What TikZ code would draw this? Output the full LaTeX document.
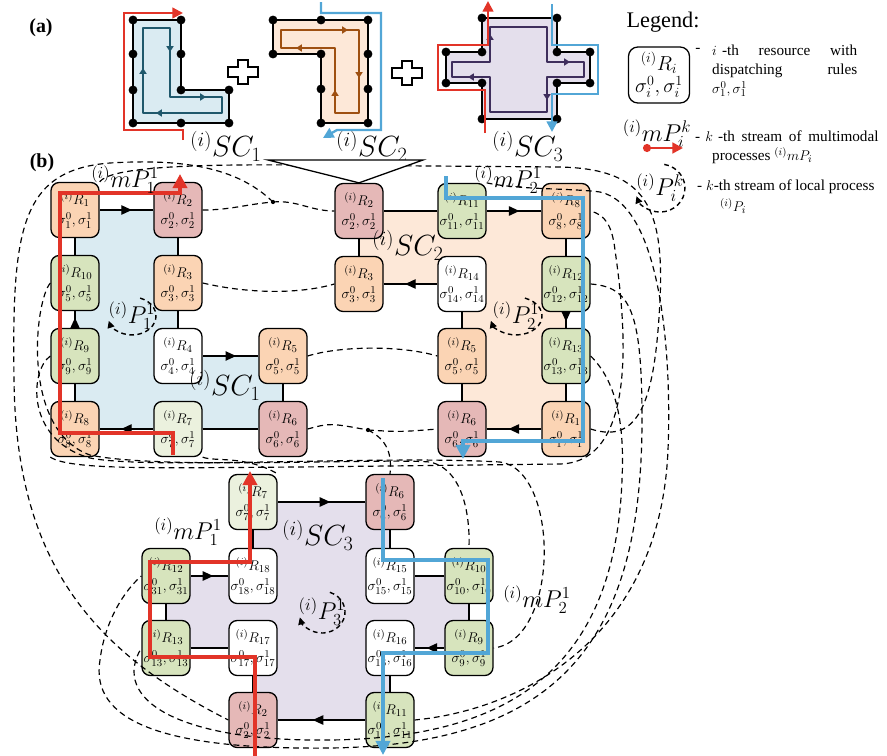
\documentclass[tikz,border=0pt]{standalone}
\usepackage{fontspec}
\setmainfont{Liberation Serif}
\usetikzlibrary{arrows.meta,decorations.markings}

\definecolor{peachbox}{RGB}{251,212,180}
\definecolor{pinkbox}{RGB}{229,184,183}
\definecolor{greenbox}{RGB}{215,228,189}
\definecolor{palegreen}{RGB}{235,241,222}
\definecolor{bgone}{RGB}{218,235,242}
\definecolor{bgtwo}{RGB}{253,232,216}
\definecolor{bgthree}{RGB}{228,223,236}
\definecolor{mpred}{RGB}{226,52,40}
\definecolor{mpblue}{RGB}{82,166,214}
\definecolor{loopteal}{RGB}{31,88,108}
\definecolor{loopbrown}{RGB}{158,80,18}
\definecolor{loopviolet}{RGB}{62,46,92}

\newcommand{\restext}[2]{$^{(i)}R_{#1}$\\$\sigma^0_{#2},\sigma^1_{#2}$}

\tikzset{
  res/.style={draw, line width=1.1pt, rounded corners=7pt, minimum width=1.44cm,
    minimum height=1.65cm, inner sep=0pt, align=center,
    font=\fontsize{12.5}{17}\selectfont},
  link/.style={line width=1.1pt},
  midarrow/.style={postaction={decorate}, decoration={markings,
    mark=at position .6 with {\arrow{Triangle[length=9pt,width=8pt]}}}},
  shared/.style={line width=1pt, dash pattern=on 5pt off 3.5pt},
  route/.style={line width=3pt, -{Triangle[length=12pt,width=12pt]}},
  smallroute/.style={line width=2pt, -{Triangle[length=9pt,width=9pt]}},
  loopline/.style={line width=2.4pt, line join=round},
  smalltip/.style={line width=2.4pt, -{Triangle[length=5pt,width=6pt]}},
  outline/.style={draw, line width=1.2pt},
  locloop/.style={line width=1.2pt, dash pattern=on 4pt off 3pt,
    -{Triangle[length=6pt,width=6pt]}},
  bigmath/.style={font=\fontsize{25}{30}\selectfont, inner sep=0pt},
  midmath/.style={font=\fontsize{20.7}{24}\selectfont, inner sep=0pt},
  keyline/.style={font=\fontsize{13}{16}\selectfont, inner sep=0pt}
}

\begin{document}
\begin{tikzpicture}[x=0.03cm, y=-0.03cm]
  \useasboundingbox (0,0) rectangle (887,756);

  % (a) the three sub-cycles
  \node[font=\fontsize{17}{20}\selectfont\bfseries] (taga) at (41,28) {(a)};
  \draw[outline, fill=bgone] (133,20) -- (181,20) -- (181,90) -- (229,90) -- (229,123) -- (133,123) -- cycle;
  \draw[outline, fill=bgtwo] (273,20) -- (368,20) -- (368,123) -- (321,123) -- (321,54) -- (273,54) -- cycle;
  \draw[outline, fill=bgthree] (482,18) -- (557,18) -- (557,52) -- (590,52) -- (590,83) -- (557,83)
    -- (557,119) -- (482,119) -- (482,83) -- (446,83) -- (446,52) -- (482,52) -- cycle;
  \draw[loopline, loopteal] (143,28) -- (170,28) -- (170,97) -- (222,97) -- (222,113) -- (143,113) -- cycle;
  \draw[smalltip, loopteal] (170,42) -- (170,52);
  \draw[smalltip, loopteal] (143,78) -- (143,68);
  \draw[smalltip, loopteal] (196,97) -- (206,97);
  \draw[smalltip, loopteal] (166,113) -- (156,113);
  \draw[loopline, loopbrown] (281,30) -- (359,30) -- (359,113) -- (335,113) -- (335,48) -- (281,48) -- cycle;
  \draw[smalltip, loopbrown] (338,30) -- (348,30);
  \draw[smalltip, loopbrown] (359,68) -- (359,78);
  \draw[smalltip, loopbrown] (335,100) -- (335,90);
  \draw[smalltip, loopbrown] (306,48) -- (296,48);
  \draw[loopline, loopviolet] (490,27) -- (547,27) -- (547,62) -- (584,62) -- (584,77) -- (547,77)
    -- (547,112) -- (490,112) -- (490,77) -- (452,77) -- (452,62) -- (490,62) -- cycle;
  \draw[smalltip, loopviolet] (490,44) -- (490,34);
  \draw[smalltip, loopviolet] (560,62) -- (570,62);
  \draw[smalltip, loopviolet] (547,90) -- (547,100);
  \draw[smalltip, loopviolet] (478,77) -- (468,77);
  \fill (133,20) circle (3.8pt) (181,20) circle (3.8pt) (133,54) circle (3.8pt) (181,54) circle (3.8pt)
    (133,90) circle (3.8pt) (181,90) circle (3.8pt) (229,90) circle (3.8pt)
    (133,123) circle (3.8pt) (181,123) circle (3.8pt) (229,123) circle (3.8pt);
  \fill (273,20) circle (3.8pt) (321,20) circle (3.8pt) (368,20) circle (3.8pt)
    (273,54) circle (3.8pt) (321,54) circle (3.8pt) (368,54) circle (3.8pt)
    (321,89) circle (3.8pt) (368,89) circle (3.8pt) (321,123) circle (3.8pt) (368,123) circle (3.8pt);
  \fill (482,18) circle (3.8pt) (557,18) circle (3.8pt) (446,52) circle (3.8pt) (482,52) circle (3.8pt)
    (557,52) circle (3.8pt) (590,52) circle (3.8pt) (446,83) circle (3.8pt) (482,83) circle (3.8pt)
    (557,83) circle (3.8pt) (590,83) circle (3.8pt) (482,119) circle (3.8pt) (557,119) circle (3.8pt);
  \draw[smallroute, mpred] (183,140) -- (183,130) -- (124,130) -- (124,13) -- (183,13);
  \draw[smallroute, mpblue] (321,2) -- (321,13) -- (381,13) -- (381,130) -- (337,130) -- (323,138);
  \draw[smallroute, mpred] (485,133) -- (485,90) -- (438,90) -- (438,45) -- (488,45) -- (488,1);
  \draw[smallroute, mpblue] (552,4) -- (552,45) -- (598,45) -- (598,94) -- (552,94) -- (552,132);
  \draw[outline, fill=white] (243,72) ++(-5,-12) -- ++(10,0) -- ++(0,7) -- ++(10,0) -- ++(0,10) -- ++(-10,0)
    -- ++(0,7) -- ++(-10,0) -- ++(0,-7) -- ++(-10,0) -- ++(0,-10) -- ++(10,0) -- cycle;
  \draw[outline, fill=white] (407,73) ++(-5,-12) -- ++(10,0) -- ++(0,7) -- ++(10,0) -- ++(0,10) -- ++(-10,0)
    -- ++(0,7) -- ++(-10,0) -- ++(0,-7) -- ++(-10,0) -- ++(0,-10) -- ++(10,0) -- cycle;
  \node[bigmath] (scA) at (226,146) {$^{(i)}SC_1$};
  \node[bigmath] (scB) at (372,146) {$^{(i)}SC_2$};
  \node[bigmath] (scC) at (528,146) {$^{(i)}SC_3$};

  % (b) backgrounds
  \node[font=\fontsize{17}{20}\selectfont\bfseries] (tagb) at (42,163) {(b)};
  \fill[bgone] (75,210) -- (178,210) -- (178,356) -- (283,356) -- (283,429) -- (75,429) -- cycle;
  \fill[bgtwo] (359,211) -- (566,211) -- (566,429) -- (462,429) -- (462,284) -- (359,284) -- cycle;
  \fill[bgthree] (253,502) -- (390,502) -- (390,576) -- (469,576) -- (469,648) -- (390,648) -- (390,720)
    -- (253,720) -- (253,648) -- (166,648) -- (166,576) -- (253,576) -- cycle;

  % SC1 resources
  \node[res, fill=peachbox] (A1) at (75,210) {\restext{1}{1}};
  \node[res, fill=pinkbox] (A2) at (178,210) {\restext{2}{2}};
  \node[res, fill=greenbox] (A10) at (75,283) {\restext{10}{5}};
  \node[res, fill=peachbox] (A3) at (178,283) {\restext{3}{3}};
  \node[res, fill=greenbox] (A9) at (75,356) {\restext{9}{9}};
  \node[res, fill=white] (A4) at (178,356) {\restext{4}{4}};
  \node[res, fill=peachbox] (A5) at (283,356) {\restext{5}{5}};
  \node[res, fill=peachbox] (A8) at (75,429) {\restext{8}{8}};
  \node[res, fill=palegreen] (A7) at (178,429) {\restext{7}{7}};
  \node[res, fill=pinkbox] (A6) at (283,429) {\restext{6}{6}};

  % SC2 resources
  \node[res, fill=pinkbox] (B2) at (359,211) {\restext{2}{2}};
  \node[res, fill=greenbox] (B11) at (462,211) {\restext{11}{11}};
  \node[res, fill=peachbox] (B8) at (566,211) {\restext{8}{8}};
  \node[res, fill=peachbox] (B3) at (359,284) {\restext{3}{3}};
  \node[res, fill=white] (B14) at (462,284) {\restext{14}{14}};
  \node[res, fill=greenbox] (B12) at (566,284) {\restext{12}{12}};
  \node[res, fill=peachbox] (B5) at (462,356) {\restext{5}{5}};
  \node[res, fill=greenbox] (B13) at (566,356) {\restext{13}{13}};
  \node[res, fill=pinkbox] (B6) at (462,429) {\restext{6}{6}};
  \node[res, fill=peachbox] (B1) at (566,429) {\restext{1}{1}};

  % SC3 resources
  \node[res, fill=palegreen] (C7) at (253,502) {\restext{7}{7}};
  \node[res, fill=pinkbox] (C6) at (390,502) {\restext{6}{6}};
  \node[res, fill=greenbox] (C12) at (166,576) {\restext{12}{31}};
  \node[res, fill=white] (C18) at (253,576) {\restext{18}{18}};
  \node[res, fill=white] (C15) at (390,576) {\restext{15}{15}};
  \node[res, fill=greenbox] (C10) at (469,576) {\restext{10}{10}};
  \node[res, fill=greenbox] (C13) at (166,648) {\restext{13}{13}};
  \node[res, fill=white] (C17) at (253,648) {\restext{17}{17}};
  \node[res, fill=white] (C16) at (390,648) {\restext{16}{16}};
  \node[res, fill=greenbox] (C9) at (469,648) {\restext{9}{9}};
  \node[res, fill=pinkbox] (C2) at (253,720) {\restext{2}{2}};
  \node[res, fill=greenbox] (C11) at (390,720) {\restext{11}{11}};

  % transport links
  \draw[link, midarrow] (A1) -- (A2);
  \draw[link] (A1) -- (A10);
  \draw[link, midarrow] (A9) -- (A10);
  \draw[link] (A9) -- (A8);
  \draw[link, midarrow] (A7) -- (A8);
  \draw[link] (A7) -- (A6);
  \draw[link] (A6) -- (A5);
  \draw[link, midarrow] (A4) -- (A5);
  \draw[link] (A4) -- (A3);
  \draw[link] (A3) -- (A2);
  \draw[link] (B2) -- (B11);
  \draw[link, midarrow] (B11) -- (B8);
  \draw[link] (B8) -- (B12);
  \draw[link, midarrow] (B12) -- (B13);
  \draw[link] (B13) -- (B1);
  \draw[link, midarrow] (B1) -- (B6);
  \draw[link] (B6) -- (B5);
  \draw[link] (B5) -- (B14);
  \draw[link, midarrow] (B14) -- (B3);
  \draw[link] (B3) -- (B2);
  \draw[link, midarrow] (C7) -- (C6);
  \draw[link] (C6) -- (C15);
  \draw[link] (C15) -- (C10);
  \draw[link] (C10) -- (C9);
  \draw[link, midarrow] (C9) -- (C16);
  \draw[link] (C16) -- (C11);
  \draw[link, midarrow] (C11) -- (C2);
  \draw[link] (C2) -- (C17);
  \draw[link] (C17) -- (C13);
  \draw[link] (C13) -- (C12);
  \draw[link, midarrow] (C12) -- (C18);
  \draw[link] (C18) -- (C7);

  % shared resources
  \coordinate (J2) at (273,202);
  \coordinate (J6) at (368,430);
  \fill (J2) circle (1.8pt);
  \fill (J6) circle (1.8pt);
  \draw[shared] (A2.east) to[out=0,in=185] (J2);
  \draw[shared] (J2) to[out=5,in=180] (B2.west);
  \draw[shared] (J2) .. controls (240,170) and (190,158) .. (110,163) .. controls (20,170) and (12,230) .. (14,380)
    .. controls (16,560) and (90,650) .. (C2.west);
  \draw[shared] (A1.north east) .. controls (110,168) and (180,164) .. (300,165) -- (560,167)
    .. controls (640,169) and (665,200) .. (660,300) .. controls (655,400) and (640,445) .. (B1.east);
  \draw[shared] (A3.east) .. controls (250,294) and (300,294) .. (B3.west);
  \draw[shared] (A5.east) .. controls (340,346) and (400,345) .. (B5.west);
  \draw[shared] (A6.east) .. controls (330,423) .. (J6);
  \draw[shared] (J6) .. controls (400,432) .. (B6.west);
  \draw[shared] (J6) .. controls (388,440) and (392,455) .. (C6.north);
  \draw[shared] (A7.south east) .. controls (215,462) and (245,455) .. (C7.north east);
  \draw[shared] (A8.south west) .. controls (70,470) and (150,468) .. (300,467) -- (560,464)
    .. controls (640,462) and (625,320) .. (615,250) .. controls (612,225) and (605,215) .. (B8.east);
  \draw[shared] (A9.west) .. controls (30,370) and (25,440) .. (90,458) .. controls (150,470) and (380,455) .. (500,462)
    .. controls (560,470) and (560,640) .. (C9.east);
  \draw[shared] (A10.west) .. controls (35,300) and (20,430) .. (90,455) .. controls (160,470) and (380,458) .. (430,462)
    .. controls (465,470) and (470,520) .. (C10.north);
  \draw[shared] (B11.north east) .. controls (520,190) and (570,188) .. (600,192) .. controls (660,205) and (672,350) .. (668,450)
    .. controls (660,640) and (520,710) .. (C11.east);
  \draw[shared] (B12.east) .. controls (630,287) and (642,310) .. (642,420) .. controls (642,640) and (560,745) .. (330,748)
    .. controls (160,750) and (90,720) .. (100,660) .. controls (105,620) and (125,590) .. (C12.west);
  \draw[shared] (B13.east) .. controls (615,380) and (625,420) .. (622,480) .. controls (615,660) and (520,738) .. (330,740)
    .. controls (180,742) and (110,700) .. (C13.west);
  \draw[link, fill=white] (268,160) -- (423,160) -- (B2.north) -- cycle;

  % multimodal streams
  \draw[route, mpred] (173,455) -- (173,433) -- (60,433) -- (60,193) -- (180,193) -- (180,174);
  \draw[route, mpblue] (446,176) -- (446,198) -- (583,198) -- (583,441) -- (463,441) -- (463,459);
  \draw[route, mpred] (255,756) -- (255,657) -- (150,657) -- (150,562) -- (250,562) -- (250,471);
  \draw[route, mpblue] (383,478) -- (383,560) -- (488,560) -- (488,653) -- (383,653) -- (383,755);

  % labels in (b)
  \node[midmath] (mpA) at (125,180) {$^{(i)}mP_1^1$};
  \node[midmath] (mpB) at (508,180) {$^{(i)}mP_2^1$};
  \node[midmath] (mpC) at (188,532) {$^{(i)}mP_1^1$};
  \node[midmath] (mpD) at (537,600) {$^{(i)}mP_2^1$};
  \node[bigmath] (scbA) at (225,385) {$^{(i)}SC_1$};
  \node[bigmath] (scbB) at (408,245) {$^{(i)}SC_2$};
  \node[bigmath] (scbC) at (318,535) {$^{(i)}SC_3$};
  \node[midmath] (pA) at (132,316) {$^{(i)}P_1^1$};
  \node[midmath] (pB) at (516,316) {$^{(i)}P_2^1$};
  \node[midmath] (pC) at (322,612) {$^{(i)}P_3^1$};
  \draw[locloop] (pA.center) ++(8.2,-17.9) arc[start angle=-70, end angle=165, x radius=24, y radius=19];
  \draw[locloop] (pB.center) ++(8.9,-17.9) arc[start angle=-70, end angle=165, x radius=26, y radius=19];
  \draw[locloop] (pC.center) ++(7.9,-19.7) arc[start angle=-70, end angle=165, x radius=23, y radius=21];

  % legend
  \node[font=\fontsize{19}{22}\selectfont, inner sep=0pt] (legtitle) at (663,22) {Legend:};
  \node[res, minimum width=1.83cm, minimum height=1.68cm, rounded corners=8pt,
    font=\fontsize{17.3}{19}\selectfont] (key) at (659,75) {$^{(i)}R_i$\\$\sigma_i^0,\sigma_i^1$};
  \node[keyline] (keydash) at (698,50) {-};
  \node[keyline, anchor=north west, text width=4.35cm, align=left] (keytext) at (712,45)
    {$i$ -th\hfill resource\hfill with\\ dispatching\hfill rules\\ $\sigma_1^0,\sigma_1^1$};
  \node[midmath] (keymp) at (657,134) {$^{(i)}mP_i^k$};
  \draw[line width=2.4pt, mpred, -{Triangle[length=9pt,width=9pt]}] (647,148) -- (683,148);
  \fill[mpred] (647,148) circle (3.5pt);
  \node[keyline, anchor=west, text width=5.5cm, align=left] (keymptext) at (695,136)
    {- $k$ -th\hfill stream\hfill of\hfill multimodal};
  \node[keyline, anchor=west] (keymptwo) at (712,156) {processes $^{(i)}mP_i$};
  \node[midmath] (keyp) at (660,188) {$^{(i)}P_i^k$};
  \draw[locloop] (keyp.center) ++(4.3,-23.6) arc[start angle=-80, end angle=160, x radius=25, y radius=24];
  \node[keyline, anchor=west] (keyptext) at (697,187) {- $k$-th stream of local process};
  \node[keyline, anchor=west] (keyptwo) at (720,206) {$^{(i)}P_i$};
\end{tikzpicture}
\end{document}
